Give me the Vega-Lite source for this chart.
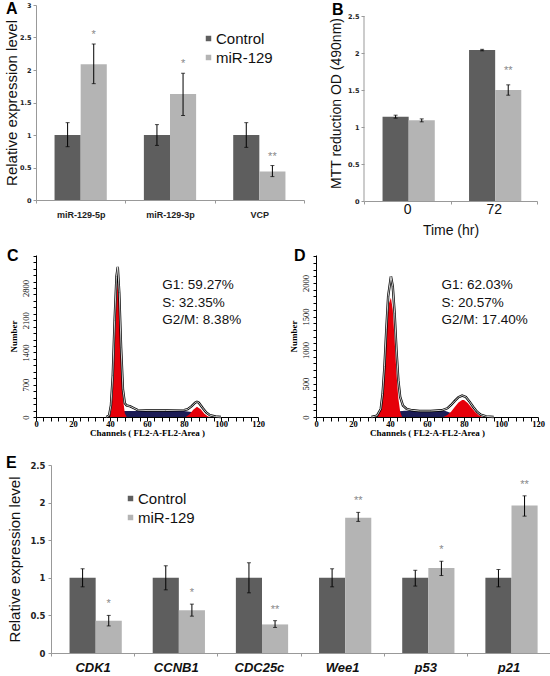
{
"$schema":"https://vega.github.io/schema/vega-lite/v6.json",
"autosize":{"type":"pad"},
"padding":{"left":4,"top":1,"right":0,"bottom":0},
"background":"white",
"config":{"view":{"stroke":null},"axis":{"grid":false,"labelOverlap":false},"font":"Liberation Sans"},
"datasets":{
"A":[
{"cat":"miR-129-5p","grp":"Control","val":1.0,"lo":0.82,"hi":1.19,"sig":""},
{"cat":"miR-129-5p","grp":"miR-129","val":2.09,"lo":1.79,"hi":2.40,"sig":"*"},
{"cat":"miR-129-3p","grp":"Control","val":1.0,"lo":0.84,"hi":1.16,"sig":""},
{"cat":"miR-129-3p","grp":"miR-129","val":1.63,"lo":1.30,"hi":1.95,"sig":"*"},
{"cat":"VCP","grp":"Control","val":1.0,"lo":0.81,"hi":1.19,"sig":""},
{"cat":"VCP","grp":"miR-129","val":0.44,"lo":0.36,"hi":0.53,"sig":"**"}],
"B":[
{"t":"0","grp":"Control","val":1.14,"lo":1.12,"hi":1.16,"sig":""},
{"t":"0","grp":"miR-129","val":1.09,"lo":1.07,"hi":1.11,"sig":""},
{"t":"72","grp":"Control","val":2.04,"lo":2.03,"hi":2.05,"sig":""},
{"t":"72","grp":"miR-129","val":1.50,"lo":1.43,"hi":1.57,"sig":"**"}],
"E":[
{"cat":"CDK1","grp":"Control","val":1.0,"lo":0.88,"hi":1.12,"sig":""},
{"cat":"CDK1","grp":"miR-129","val":0.43,"lo":0.36,"hi":0.50,"sig":"*"},
{"cat":"CCNB1","grp":"Control","val":1.0,"lo":0.84,"hi":1.16,"sig":""},
{"cat":"CCNB1","grp":"miR-129","val":0.57,"lo":0.49,"hi":0.65,"sig":"*"},
{"cat":"CDC25c","grp":"Control","val":1.0,"lo":0.80,"hi":1.20,"sig":""},
{"cat":"CDC25c","grp":"miR-129","val":0.38,"lo":0.34,"hi":0.43,"sig":"**"},
{"cat":"Wee1","grp":"Control","val":1.0,"lo":0.88,"hi":1.12,"sig":""},
{"cat":"Wee1","grp":"miR-129","val":1.80,"lo":1.75,"hi":1.87,"sig":"**"},
{"cat":"p53","grp":"Control","val":1.0,"lo":0.89,"hi":1.10,"sig":""},
{"cat":"p53","grp":"miR-129","val":1.13,"lo":1.03,"hi":1.22,"sig":"*"},
{"cat":"p21","grp":"Control","val":1.0,"lo":0.88,"hi":1.11,"sig":""},
{"cat":"p21","grp":"miR-129","val":1.96,"lo":1.82,"hi":2.09,"sig":"**"}],
"hC":[
{"p":"T","ch":38,"n":0},{"p":"T","ch":39.5,"n":30},{"p":"T","ch":40.5,"n":250},{"p":"T","ch":41.5,"n":900},{"p":"T","ch":42.5,"n":2100},{"p":"T","ch":43.5,"n":3050},{"p":"T","ch":44.2,"n":3260},{"p":"T","ch":45,"n":2700},{"p":"T","ch":46,"n":1500},{"p":"T","ch":47,"n":600},{"p":"T","ch":48,"n":300},{"p":"T","ch":49,"n":250},{"p":"T","ch":51,"n":230},{"p":"T","ch":53,"n":190},{"p":"T","ch":55,"n":150},{"p":"T","ch":60,"n":140},{"p":"T","ch":70,"n":140},{"p":"T","ch":80,"n":150},{"p":"T","ch":82,"n":170},{"p":"T","ch":84,"n":230},{"p":"T","ch":86,"n":310},{"p":"T","ch":87,"n":330},{"p":"T","ch":88,"n":310},{"p":"T","ch":90,"n":200},{"p":"T","ch":92,"n":100},{"p":"T","ch":94,"n":40},{"p":"T","ch":97,"n":10},{"p":"T","ch":100,"n":0},
{"p":"G1","ch":39.5,"n":0},{"p":"G1","ch":40.5,"n":100},{"p":"G1","ch":41.5,"n":500},{"p":"G1","ch":42.5,"n":1500},{"p":"G1","ch":43.5,"n":2600},{"p":"G1","ch":44.2,"n":2950},{"p":"G1","ch":45,"n":2500},{"p":"G1","ch":46,"n":1300},{"p":"G1","ch":47,"n":400},{"p":"G1","ch":48,"n":80},{"p":"G1","ch":49,"n":0},
{"p":"S","ch":42,"n":0},{"p":"S","ch":44,"n":60},{"p":"S","ch":46,"n":120},{"p":"S","ch":48,"n":130},{"p":"S","ch":60,"n":130},{"p":"S","ch":80,"n":130},{"p":"S","ch":84,"n":110},{"p":"S","ch":88,"n":40},{"p":"S","ch":90,"n":0},
{"p":"G2","ch":81,"n":0},{"p":"G2","ch":83,"n":60},{"p":"G2","ch":85,"n":160},{"p":"G2","ch":87,"n":220},{"p":"G2","ch":89,"n":170},{"p":"G2","ch":91,"n":70},{"p":"G2","ch":93,"n":10},{"p":"G2","ch":94,"n":0}],
"hD":[
{"p":"T","ch":30,"n":0},{"p":"T","ch":33,"n":20},{"p":"T","ch":35,"n":120},{"p":"T","ch":36,"n":350},{"p":"T","ch":37,"n":750},{"p":"T","ch":38,"n":1300},{"p":"T","ch":39,"n":1800},{"p":"T","ch":40.5,"n":2100},{"p":"T","ch":41.5,"n":1950},{"p":"T","ch":42.5,"n":1550},{"p":"T","ch":43.5,"n":1000},{"p":"T","ch":44.5,"n":550},{"p":"T","ch":45.5,"n":300},{"p":"T","ch":47,"n":170},{"p":"T","ch":49,"n":120},{"p":"T","ch":52,"n":100},{"p":"T","ch":56,"n":90},{"p":"T","ch":62,"n":90},{"p":"T","ch":68,"n":100},{"p":"T","ch":71,"n":130},{"p":"T","ch":73,"n":180},{"p":"T","ch":75,"n":240},{"p":"T","ch":77,"n":295},{"p":"T","ch":79,"n":320},{"p":"T","ch":81,"n":300},{"p":"T","ch":83,"n":230},{"p":"T","ch":85,"n":150},{"p":"T","ch":87,"n":80},{"p":"T","ch":89,"n":35},{"p":"T","ch":92,"n":10},{"p":"T","ch":96,"n":0},
{"p":"G1","ch":33,"n":0},{"p":"G1","ch":34.5,"n":80},{"p":"G1","ch":35.5,"n":280},{"p":"G1","ch":36.5,"n":600},{"p":"G1","ch":37.5,"n":1050},{"p":"G1","ch":38.5,"n":1450},{"p":"G1","ch":39.5,"n":1700},{"p":"G1","ch":40.5,"n":1780},{"p":"G1","ch":41.5,"n":1600},{"p":"G1","ch":42.5,"n":1150},{"p":"G1","ch":43.5,"n":650},{"p":"G1","ch":44.5,"n":280},{"p":"G1","ch":45.5,"n":80},{"p":"G1","ch":46.5,"n":0},
{"p":"S","ch":38,"n":0},{"p":"S","ch":42,"n":40},{"p":"S","ch":45,"n":85},{"p":"S","ch":48,"n":95},{"p":"S","ch":60,"n":90},{"p":"S","ch":70,"n":90},{"p":"S","ch":74,"n":50},{"p":"S","ch":78,"n":0},
{"p":"G2","ch":69,"n":0},{"p":"G2","ch":71,"n":30},{"p":"G2","ch":73,"n":80},{"p":"G2","ch":75,"n":150},{"p":"G2","ch":77,"n":215},{"p":"G2","ch":79,"n":255},{"p":"G2","ch":80,"n":255},{"p":"G2","ch":82,"n":210},{"p":"G2","ch":84,"n":140},{"p":"G2","ch":86,"n":75},{"p":"G2","ch":88,"n":25},{"p":"G2","ch":90,"n":0}],
"annC":[{"ch":68.3,"n":2863,"label":"G1: 59.27%"},{"ch":68.3,"n":2473,"label":"S: 32.35%"},{"ch":68.3,"n":2104,"label":"G2/M: 8.38%"}],
"annD":[{"ch":67.8,"n":1970,"label":"G1: 62.03%"},{"ch":67.8,"n":1701,"label":"S: 20.57%"},{"ch":67.8,"n":1448,"label":"G2/M: 17.40%"}]
},
"resolve":{"scale":{"color":"independent"},"legend":{"color":"independent"}},
"spacing":17,
"vconcat":[
{"spacing":11,
"resolve":{"scale":{"color":"independent"},"legend":{"color":"independent"}},
"vconcat":[
{"hconcat":[
{"width":268,"height":195,
"data":{"name":"A"},
"encoding":{
"x":{"field":"cat","type":"nominal","sort":null,"title":null,"scale":{"paddingInner":0,"paddingOuter":0},"axis":{"labelAngle":0,"labelFont":"Liberation Sans","labelFontWeight":"bold","labelFontSize":9,"labelColor":"#222","labelPadding":7,"domainColor":"#999","tickColor":"#999","tickSize":3,"tickBand":"extent"}}},
"layer":[
{"mark":{"type":"bar"},"encoding":{
"xOffset":{"field":"grp","type":"nominal","sort":null,"scale":{"paddingInner":0,"paddingOuter":0.71}},
"y":{"field":"val","type":"quantitative","title":"Relative expression level","scale":{"domain":[0,3],"nice":false},"axis":{"values":[0,0.5,1,1.5,2,2.5,3],"labelExpr":"'' + datum.value","labelFont":"DejaVu Sans","labelFontWeight":"bold","labelFontSize":6.5,"labelColor":"#222","labelPadding":2,"domainColor":"#999","tickColor":"#999","tickSize":3,"titleFont":"Liberation Sans","titleFontSize":15,"titleFontWeight":"normal","titleColor":"#111","titlePadding":0}},
"color":{"field":"grp","type":"nominal","scale":{"domain":["Control","miR-129"],"range":["#5e5e5e","#b4b4b4"]},"legend":{"title":null,"orient":"none","legendX":165,"legendY":26,"symbolType":"square","symbolSize":30,"symbolStrokeWidth":0,"labelFontSize":15,"labelFont":"Liberation Sans","labelColor":"#111","rowPadding":3,"labelOffset":0}}}},
{"mark":{"type":"rule","color":"#000","strokeWidth":1},"encoding":{"xOffset":{"field":"grp","type":"nominal","sort":null},"y":{"field":"lo","type":"quantitative","title":"Relative expression level","axis":{"values":[0,0.5,1,1.5,2,2.5,3],"labelExpr":"'' + datum.value","labelFont":"DejaVu Sans","labelFontWeight":"bold","labelFontSize":6.5,"labelColor":"#222","labelPadding":2,"domainColor":"#999","tickColor":"#999","tickSize":3,"titleFont":"Liberation Sans","titleFontSize":15,"titleFontWeight":"normal","titleColor":"#111","titlePadding":0}},"y2":{"field":"hi"}}},
{"mark":{"type":"tick","color":"#000","size":4,"thickness":1},"encoding":{"xOffset":{"field":"grp","type":"nominal","sort":null},"y":{"field":"lo","type":"quantitative","title":"Relative expression level","axis":{"values":[0,0.5,1,1.5,2,2.5,3],"labelExpr":"'' + datum.value","labelFont":"DejaVu Sans","labelFontWeight":"bold","labelFontSize":6.5,"labelColor":"#222","labelPadding":2,"domainColor":"#999","tickColor":"#999","tickSize":3,"titleFont":"Liberation Sans","titleFontSize":15,"titleFontWeight":"normal","titleColor":"#111","titlePadding":0}}}},
{"mark":{"type":"tick","color":"#000","size":4,"thickness":1},"encoding":{"xOffset":{"field":"grp","type":"nominal","sort":null},"y":{"field":"hi","type":"quantitative","title":"Relative expression level","axis":{"values":[0,0.5,1,1.5,2,2.5,3],"labelExpr":"'' + datum.value","labelFont":"DejaVu Sans","labelFontWeight":"bold","labelFontSize":6.5,"labelColor":"#222","labelPadding":2,"domainColor":"#999","tickColor":"#999","tickSize":3,"titleFont":"Liberation Sans","titleFontSize":15,"titleFontWeight":"normal","titleColor":"#111","titlePadding":0}}}},
{"transform":[{"filter":"datum.sig !== ''"}],"mark":{"type":"text","dy":-9,"fontSize":11,"color":"#888","baseline":"middle"},"encoding":{"xOffset":{"field":"grp","type":"nominal","sort":null},"y":{"field":"hi","type":"quantitative","title":"Relative expression level","axis":{"values":[0,0.5,1,1.5,2,2.5,3],"labelExpr":"'' + datum.value","labelFont":"DejaVu Sans","labelFontWeight":"bold","labelFontSize":6.5,"labelColor":"#222","labelPadding":2,"domainColor":"#999","tickColor":"#999","tickSize":3,"titleFont":"Liberation Sans","titleFontSize":15,"titleFontWeight":"normal","titleColor":"#111","titlePadding":0}},"text":{"field":"sig"}}},
{"data":{"values":[{"cat":"miR-129-5p","v":3,"lab":"A"}]},"mark":{"type":"text","align":"left","baseline":"alphabetic","dx":-30,"dy":9,"fontSize":16,"fontWeight":"bold","font":"Liberation Sans","color":"#000"},"encoding":{
"x":{"field":"cat","type":"nominal","sort":null,"title":null,"bandPosition":0,"scale":{"paddingInner":0,"paddingOuter":0},"axis":{"labelAngle":0,"labelFont":"Liberation Sans","labelFontWeight":"bold","labelFontSize":9,"labelColor":"#222","labelPadding":7,"domainColor":"#999","tickColor":"#999","tickSize":3,"tickBand":"extent"}},
"y":{"field":"v","type":"quantitative","title":"Relative expression level","axis":{"values":[0,0.5,1,1.5,2,2.5,3],"labelExpr":"'' + datum.value","labelFont":"DejaVu Sans","labelFontWeight":"bold","labelFontSize":6.5,"labelColor":"#222","labelPadding":2,"domainColor":"#999","tickColor":"#999","tickSize":3,"titleFont":"Liberation Sans","titleFontSize":15,"titleFontWeight":"normal","titleColor":"#111","titlePadding":0}},
"text":{"field":"lab"}}}
]},
{"width":173,"height":196,
"data":{"name":"B"},
"encoding":{
"x":{"field":"t","type":"nominal","sort":null,"title":"Time (hr)","scale":{"paddingInner":0,"paddingOuter":0},"axis":{"labelAngle":0,"labelFont":"Liberation Sans","labelFontSize":14,"labelColor":"#111","labelPadding":-2,"domainColor":"#999","tickColor":"#999","tickSize":3,"tickBand":"extent","titleFont":"Liberation Sans","titleFontSize":14,"titleFontWeight":"normal","titleColor":"#111","titlePadding":7}},
"y":{"field":"val","type":"quantitative","title":"MTT reduction OD (490nm)","scale":{"domain":[0,2.649],"nice":false},"axis":{"values":[0,0.5,1,1.5,2,2.5],"labelExpr":"'' + datum.value","domain":false,"labelFont":"DejaVu Sans","labelFontWeight":"bold","labelFontSize":6.5,"labelColor":"#222","labelPadding":2,"tickColor":"#999","tickSize":3,"titleFont":"Liberation Sans","titleFontSize":14,"titleFontWeight":"normal","titleColor":"#111","titlePadding":4}}},
"layer":[
{"mark":{"type":"bar"},"encoding":{
"xOffset":{"field":"grp","type":"nominal","sort":null,"scale":{"paddingInner":0,"paddingOuter":0.78}},
"color":{"field":"grp","type":"nominal","scale":{"domain":["Control","miR-129"],"range":["#5e5e5e","#b4b4b4"]},"legend":null}}},
{"transform":[{"filter":"datum.t === '0' && datum.grp === 'Control'"}],"mark":{"type":"rule","color":"#999","strokeWidth":1},"encoding":{"x":{"field":"t","type":"nominal","sort":null,"bandPosition":0},"y":{"datum":0,"type":"quantitative"},"y2":{"datum":2.5}}},
{"mark":{"type":"rule","color":"#000","strokeWidth":1},"encoding":{"xOffset":{"field":"grp","type":"nominal","sort":null},"y":{"field":"lo","type":"quantitative"},"y2":{"field":"hi"}}},
{"mark":{"type":"tick","color":"#000","size":4,"thickness":1},"encoding":{"xOffset":{"field":"grp","type":"nominal","sort":null},"y":{"field":"lo","type":"quantitative"}}},
{"mark":{"type":"tick","color":"#000","size":4,"thickness":1},"encoding":{"xOffset":{"field":"grp","type":"nominal","sort":null},"y":{"field":"hi","type":"quantitative"}}},
{"transform":[{"filter":"datum.sig !== ''"}],"mark":{"type":"text","dy":-14,"fontSize":11,"color":"#888","baseline":"middle"},"encoding":{"xOffset":{"field":"grp","type":"nominal","sort":null},"y":{"field":"hi","type":"quantitative"},"text":{"field":"sig"}}},
{"data":{"values":[{"t":"0","val":2.5,"lab":"B"}]},"mark":{"type":"text","align":"left","baseline":"alphabetic","dx":-32,"dy":-1,"fontSize":16,"fontWeight":"bold","font":"Liberation Sans","color":"#000"},"encoding":{"x":{"field":"t","type":"nominal","sort":null,"bandPosition":0},"text":{"field":"lab"}}}
]}
],"spacing":60,"bounds":"flush","resolve":{"scale":{"color":"independent"},"legend":{"color":"independent"}}},
{"hconcat":[
{"width":222,"height":162,
"encoding":{"x":{"field":"ch","type":"quantitative","title":"Channels ( FL2-A-FL2-Area )","scale":{"domain":[0,120],"nice":false,"zero":false},"axis":{"values":[0,4,8,12,16,20,24,28,32,36,40,44,48,52,56,60,64,68,72,76,80,84,88,92,96,100,104,108,112,116,120],"labelExpr":"datum.value % 20 === 0 ? datum.label : ''","labelFlush":false,"labelFont":"Liberation Serif","labelFontWeight":"bold","labelFontSize":8.5,"labelColor":"#000","labelPadding":-2,"domainColor":"#000","tickColor":"#000","tickSize":4,"titleFont":"Liberation Serif","titleFontSize":9,"titleFontWeight":"bold","titleColor":"#000","titlePadding":1}},
"y":{"field":"n","type":"quantitative","title":"Number","scale":{"domain":[0,3516],"nice":false},"axis":{"values":[0,140,280,420,560,700,840,980,1120,1260,1400,1540,1680,1820,1960,2100,2240,2380,2520,2660,2800,2940,3080,3220,3360,3500],"labelExpr":"datum.value % 700 === 0 && datum.value < 3000 ? datum.label : ''","labelFlush":false,"format":"d","labelAngle":270,"labelAlign":"center","labelBaseline":"bottom","labelFont":"Liberation Serif","labelFontSize":8.5,"labelColor":"#000","labelPadding":3,"domainColor":"#000","tickColor":"#000","tickSize":3,"titleFont":"Liberation Serif","titleFontSize":9,"titleFontWeight":"bold","titleColor":"#000","titlePadding":3}}},
"layer":[
{"data":{"name":"hC"},"transform":[{"filter":"datum.p === 'S'"}],"mark":{"type":"area","color":"#1c1c56"}},
{"data":{"name":"hC"},"transform":[{"filter":"datum.p === 'G1'"}],"mark":{"type":"area","color":"#e6000a"}},
{"data":{"name":"hC"},"transform":[{"filter":"datum.p === 'G2'"}],"mark":{"type":"area","color":"#e6000a"}},
{"data":{"name":"hC"},"transform":[{"filter":"datum.p === 'T'"}],"mark":{"type":"line","color":"#000","strokeWidth":2.4}},
{"data":{"name":"hC"},"transform":[{"filter":"datum.p === 'T'"}],"mark":{"type":"line","color":"#fff","strokeWidth":0.8}},
{"data":{"name":"annC"},"mark":{"type":"text","align":"left","baseline":"middle","fontSize":13.5,"font":"Liberation Sans","color":"#111"},"encoding":{"text":{"field":"label"}}},
{"data":{"values":[{"ch":0,"n":3516,"lab":"C"}]},"mark":{"type":"text","align":"left","baseline":"alphabetic","dx":-29,"dy":6,"fontSize":16,"fontWeight":"bold","font":"Liberation Sans","color":"#000"},"encoding":{"text":{"field":"lab"}}}
]},
{"width":222,"height":162,
"encoding":{"x":{"field":"ch","type":"quantitative","title":"Channels ( FL2-A-FL2-Area )","scale":{"domain":[0,120],"nice":false,"zero":false},"axis":{"values":[0,4,8,12,16,20,24,28,32,36,40,44,48,52,56,60,64,68,72,76,80,84,88,92,96,100,104,108,112,116,120],"labelExpr":"datum.value % 20 === 0 ? datum.label : ''","labelFlush":false,"labelFont":"Liberation Serif","labelFontWeight":"bold","labelFontSize":8.5,"labelColor":"#000","labelPadding":-2,"domainColor":"#000","tickColor":"#000","tickSize":4,"titleFont":"Liberation Serif","titleFontSize":9,"titleFontWeight":"bold","titleColor":"#000","titlePadding":1}},
"y":{"field":"n","type":"quantitative","title":"Number","scale":{"domain":[0,2418],"nice":false},"axis":{"values":[0,100,200,300,400,500,600,700,800,900,1000,1100,1200,1300,1400,1500,1600,1700,1800,1900,2000,2100,2200,2300,2400],"labelExpr":"datum.value % 500 === 0 ? datum.label : ''","labelFlush":false,"format":"d","labelAngle":270,"labelAlign":"center","labelBaseline":"bottom","labelFont":"Liberation Serif","labelFontSize":8.5,"labelColor":"#000","labelPadding":3,"domainColor":"#000","tickColor":"#000","tickSize":3,"titleFont":"Liberation Serif","titleFontSize":9,"titleFontWeight":"bold","titleColor":"#000","titlePadding":3}}},
"layer":[
{"data":{"name":"hD"},"transform":[{"filter":"datum.p === 'S'"}],"mark":{"type":"area","color":"#1c1c56"}},
{"data":{"name":"hD"},"transform":[{"filter":"datum.p === 'G1'"}],"mark":{"type":"area","color":"#e6000a"}},
{"data":{"name":"hD"},"transform":[{"filter":"datum.p === 'G2'"}],"mark":{"type":"area","color":"#e6000a"}},
{"data":{"name":"hD"},"transform":[{"filter":"datum.p === 'T'"}],"mark":{"type":"line","color":"#000","strokeWidth":2.4}},
{"data":{"name":"hD"},"transform":[{"filter":"datum.p === 'T'"}],"mark":{"type":"line","color":"#fff","strokeWidth":0.8}},
{"data":{"name":"annD"},"mark":{"type":"text","align":"left","baseline":"middle","fontSize":13.5,"font":"Liberation Sans","color":"#111"},"encoding":{"text":{"field":"label"}}},
{"data":{"values":[{"ch":0,"n":2418,"lab":"D"}]},"mark":{"type":"text","align":"left","baseline":"alphabetic","dx":-22,"dy":6,"fontSize":16,"fontWeight":"bold","font":"Liberation Sans","color":"#000"},"encoding":{"text":{"field":"lab"}}}
]}
],"spacing":58,"bounds":"flush"}
]},
{"width":514,"height":188,
"data":{"name":"E"},
"encoding":{
"x":{"field":"cat","type":"nominal","sort":null,"title":null,"scale":{"paddingInner":0,"paddingOuter":0,"range":[15,514]},"axis":{"labelAngle":0,"labelFont":"Liberation Sans","labelFontWeight":"bold","labelFontStyle":"italic","labelFontSize":13,"labelColor":"#111","labelPadding":5,"domainColor":"#999","tickColor":"#999","tickSize":3,"tickBand":"extent"}}},
"layer":[
{"mark":{"type":"bar"},"encoding":{
"xOffset":{"field":"grp","type":"nominal","sort":null,"scale":{"paddingInner":0,"paddingOuter":0.73}},
"y":{"field":"val","type":"quantitative","title":"Relative expression level","scale":{"domain":[0,2.5],"nice":false},"axis":{"offset":-15,"values":[0,0.5,1,1.5,2,2.5],"labelExpr":"'' + datum.value","labelFont":"DejaVu Sans","labelFontWeight":"bold","labelFontSize":8.5,"labelColor":"#222","labelPadding":3,"domainColor":"#999","tickColor":"#999","tickSize":3,"titleFont":"Liberation Sans","titleFontSize":15,"titleFontWeight":"normal","titleColor":"#111","titlePadding":7}},
"color":{"field":"grp","type":"nominal","scale":{"domain":["Control","miR-129"],"range":["#5e5e5e","#b4b4b4"]},"legend":{"title":null,"orient":"none","legendX":87,"legendY":26,"symbolType":"square","symbolSize":30,"symbolStrokeWidth":0,"labelFontSize":15,"labelFont":"Liberation Sans","labelColor":"#111","rowPadding":3,"labelOffset":0}}}},
{"mark":{"type":"rule","color":"#000","strokeWidth":1},"encoding":{"xOffset":{"field":"grp","type":"nominal","sort":null},"y":{"field":"lo","type":"quantitative","title":"Relative expression level","axis":{"offset":-15,"values":[0,0.5,1,1.5,2,2.5],"labelExpr":"'' + datum.value","labelFont":"DejaVu Sans","labelFontWeight":"bold","labelFontSize":8.5,"labelColor":"#222","labelPadding":3,"domainColor":"#999","tickColor":"#999","tickSize":3,"titleFont":"Liberation Sans","titleFontSize":15,"titleFontWeight":"normal","titleColor":"#111","titlePadding":7}},"y2":{"field":"hi"}}},
{"mark":{"type":"tick","color":"#000","size":4,"thickness":1},"encoding":{"xOffset":{"field":"grp","type":"nominal","sort":null},"y":{"field":"lo","type":"quantitative","title":"Relative expression level","axis":{"offset":-15,"values":[0,0.5,1,1.5,2,2.5],"labelExpr":"'' + datum.value","labelFont":"DejaVu Sans","labelFontWeight":"bold","labelFontSize":8.5,"labelColor":"#222","labelPadding":3,"domainColor":"#999","tickColor":"#999","tickSize":3,"titleFont":"Liberation Sans","titleFontSize":15,"titleFontWeight":"normal","titleColor":"#111","titlePadding":7}}}},
{"mark":{"type":"tick","color":"#000","size":4,"thickness":1},"encoding":{"xOffset":{"field":"grp","type":"nominal","sort":null},"y":{"field":"hi","type":"quantitative","title":"Relative expression level","axis":{"offset":-15,"values":[0,0.5,1,1.5,2,2.5],"labelExpr":"'' + datum.value","labelFont":"DejaVu Sans","labelFontWeight":"bold","labelFontSize":8.5,"labelColor":"#222","labelPadding":3,"domainColor":"#999","tickColor":"#999","tickSize":3,"titleFont":"Liberation Sans","titleFontSize":15,"titleFontWeight":"normal","titleColor":"#111","titlePadding":7}}}},
{"transform":[{"filter":"datum.sig !== ''"}],"mark":{"type":"text","dy":-11,"fontSize":11,"color":"#888","baseline":"middle"},"encoding":{"xOffset":{"field":"grp","type":"nominal","sort":null},"y":{"field":"hi","type":"quantitative","title":"Relative expression level","axis":{"offset":-15,"values":[0,0.5,1,1.5,2,2.5],"labelExpr":"'' + datum.value","labelFont":"DejaVu Sans","labelFontWeight":"bold","labelFontSize":8.5,"labelColor":"#222","labelPadding":3,"domainColor":"#999","tickColor":"#999","tickSize":3,"titleFont":"Liberation Sans","titleFontSize":15,"titleFontWeight":"normal","titleColor":"#111","titlePadding":7}},"text":{"field":"sig"}}},
{"data":{"values":[{"cat":"CDK1","v":2.5,"lab":"E"}]},"mark":{"type":"text","align":"left","baseline":"alphabetic","dx":-45,"dy":3,"fontSize":16,"fontWeight":"bold","font":"Liberation Sans","color":"#000"},"encoding":{
"x":{"field":"cat","type":"nominal","sort":null,"title":null,"bandPosition":0,"scale":{"paddingInner":0,"paddingOuter":0,"range":[15,514]},"axis":{"labelAngle":0,"labelFont":"Liberation Sans","labelFontWeight":"bold","labelFontStyle":"italic","labelFontSize":13,"labelColor":"#111","labelPadding":5,"domainColor":"#999","tickColor":"#999","tickSize":3,"tickBand":"extent"}},
"y":{"field":"v","type":"quantitative","title":"Relative expression level","axis":{"offset":-15,"values":[0,0.5,1,1.5,2,2.5],"labelExpr":"'' + datum.value","labelFont":"DejaVu Sans","labelFontWeight":"bold","labelFontSize":8.5,"labelColor":"#222","labelPadding":3,"domainColor":"#999","tickColor":"#999","tickSize":3,"titleFont":"Liberation Sans","titleFontSize":15,"titleFontWeight":"normal","titleColor":"#111","titlePadding":7}},
"text":{"field":"lab"}}}
]}
]
}
